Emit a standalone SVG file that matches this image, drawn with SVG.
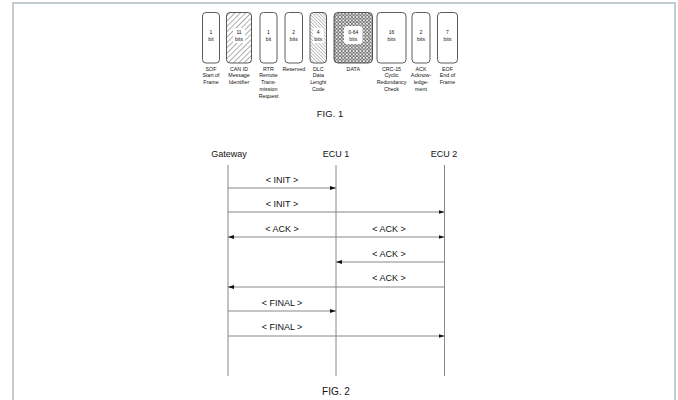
<svg xmlns="http://www.w3.org/2000/svg" width="678" height="400" viewBox="0 0 678 400">
<style>
.frame{fill:#fff;stroke:#c3cdd1;stroke-width:2}
.box{fill:#fff;stroke:#333;stroke-width:0.8}
.bt{font-family:"Liberation Sans",Arial,sans-serif;font-size:5px;fill:#111;text-anchor:middle}
.lb{font-family:"Liberation Sans",Arial,sans-serif;font-size:5.3px;fill:#111;text-anchor:middle}
.t{font-family:"Liberation Sans",Arial,sans-serif;font-size:9px;fill:#111;text-anchor:middle}
.fig{font-family:"Liberation Sans",Arial,sans-serif;font-size:10px;fill:#111;text-anchor:middle}
.life{stroke:#888;stroke-width:1;fill:none}
.msg{stroke:#888;stroke-width:1;fill:none;marker-end:url(#ah)}
</style>
<defs>
<marker id="ah" markerUnits="userSpaceOnUse" markerWidth="7" markerHeight="4" refX="6" refY="2" orient="auto">
<path d="M0,0 L6,2 L0,4 z" fill="#111"/>
</marker>
<pattern id="hf" patternUnits="userSpaceOnUse" width="3.8" height="3.8" patternTransform="rotate(45)">
<rect width="3.8" height="3.8" fill="#fff"/>
<line x1="0" y1="0" x2="0" y2="3.8" stroke="#333" stroke-width="0.8"/>
</pattern>
<pattern id="hb" patternUnits="userSpaceOnUse" width="2.4" height="2.4" patternTransform="rotate(-45)">
<rect width="2.4" height="2.4" fill="#fff"/>
<line x1="0" y1="0" x2="0" y2="2.4" stroke="#444" stroke-width="0.65"/>
</pattern>
<pattern id="dots" patternUnits="userSpaceOnUse" width="3.4" height="3.4">
<rect width="3.4" height="3.4" fill="#fff"/>
<circle cx="1.7" cy="1.7" r="1.25" fill="none" stroke="#333" stroke-width="0.7"/>
</pattern>
</defs>
<rect class="frame" x="13" y="3" width="662" height="420"/>

<g id="fig1">
<g id="sof"><rect class="box" x="202.5" y="12.5" width="17" height="50.5" rx="3.5"/><text class="bt" x="211" y="34">1</text><text class="bt" x="211" y="41">bit</text>
<text class="lb" x="211" y="70.5">SOF</text><text class="lb" x="211" y="77.3">Start of</text><text class="lb" x="211" y="84.1">Frame</text></g>
<g id="canid"><rect class="box" x="226.5" y="12.5" width="25" height="50.5" rx="3.5" style="fill:url(#hf)"/><rect x="233" y="28" width="12" height="15" fill="#fff"/><text class="bt" x="239" y="34">11</text><text class="bt" x="239" y="41">bits</text>
<text class="lb" x="239" y="70.5">CAN ID</text><text class="lb" x="239" y="77.3">Message</text><text class="lb" x="239" y="84.1">Identifier</text></g>
<g id="rtr"><rect class="box" x="260" y="12.5" width="17" height="50.5" rx="3.5"/><text class="bt" x="268.5" y="34">1</text><text class="bt" x="268.5" y="41">bit</text>
<text class="lb" x="268.5" y="70.5">RTR</text><text class="lb" x="268.5" y="77.3">Remote</text><text class="lb" x="268.5" y="84.1">Trans-</text><text class="lb" x="268.5" y="90.9">mission</text><text class="lb" x="268.5" y="97.7">Request</text></g>
<g id="reserved"><rect class="box" x="285" y="12.5" width="17.5" height="50.5" rx="3.5"/><text class="bt" x="293.75" y="34">2</text><text class="bt" x="293.75" y="41">bits</text>
<text class="lb" x="293.75" y="70.5">Reserved</text></g>
<g id="dlc"><rect class="box" x="310" y="12.5" width="16.5" height="50.5" rx="3.5" style="fill:url(#hb)"/><rect x="313" y="28" width="10.5" height="15" fill="#fff"/><text class="bt" x="318.25" y="34">4</text><text class="bt" x="318.25" y="41">bits</text>
<text class="lb" x="318.25" y="70.5">DLC</text><text class="lb" x="318.25" y="77.3">Data</text><text class="lb" x="318.25" y="84.1">Lenght</text><text class="lb" x="318.25" y="90.9">Code</text></g>
<g id="data"><rect class="box" x="334" y="12.5" width="38.5" height="50.5" rx="4" style="fill:url(#dots)"/><rect x="344" y="26" width="18.5" height="18" rx="3" fill="#fff"/><text class="bt" x="353.25" y="34">0-64</text><text class="bt" x="353.25" y="41">bits</text>
<text class="lb" x="353.25" y="70.5">DATA</text></g>
<g id="crc"><rect class="box" x="377" y="12.5" width="29" height="50.5" rx="3.5"/><text class="bt" x="391.5" y="34">16</text><text class="bt" x="391.5" y="41">bits</text>
<text class="lb" x="391.5" y="70.5">CRC-15</text><text class="lb" x="391.5" y="77.3">Cyclic</text><text class="lb" x="391.5" y="84.1">Redundancy</text><text class="lb" x="391.5" y="90.9">Check</text></g>
<g id="ack"><rect class="box" x="412" y="12.5" width="18" height="50.5" rx="3.5"/><text class="bt" x="421" y="34">2</text><text class="bt" x="421" y="41">bits</text>
<text class="lb" x="421" y="70.5">ACK</text><text class="lb" x="421" y="77.3">Acknow-</text><text class="lb" x="421" y="84.1">ledge-</text><text class="lb" x="421" y="90.9">ment</text></g>
<g id="eof"><rect class="box" x="437.5" y="12.5" width="20" height="50.5" rx="3.5"/><text class="bt" x="447.5" y="34">7</text><text class="bt" x="447.5" y="41">bits</text>
<text class="lb" x="447.5" y="70.5">EOF</text><text class="lb" x="447.5" y="77.3">End of</text><text class="lb" x="447.5" y="84.1">Frame</text></g>
<text class="fig" x="330" y="117" style="font-size:9.5px">FIG. 1</text>
</g>

<g id="gateway"><text class="t" x="229" y="157">Gateway</text><line class="life" x1="228" y1="165" x2="228" y2="376"/></g>
<g id="ecu1"><text class="t" x="336" y="157">ECU 1</text><line class="life" x1="336" y1="165" x2="336" y2="376"/></g>
<g id="ecu2"><text class="t" x="444" y="157">ECU 2</text><line class="life" x1="444.5" y1="165" x2="444.5" y2="376"/></g>

<g id="connectors">
<line class="msg" x1="228" y1="188" x2="336" y2="188"/>
<text class="t" x="282" y="183">&lt; INIT &gt;</text>
<line class="msg" x1="228" y1="212" x2="444.5" y2="212"/>
<text class="t" x="282" y="207">&lt; INIT &gt;</text>
<line class="msg" x1="336" y1="237" x2="228" y2="237"/>
<line class="msg" x1="336" y1="237" x2="444.5" y2="237"/>
<text class="t" x="282" y="232">&lt; ACK &gt;</text>
<text class="t" x="389" y="232">&lt; ACK &gt;</text>
<line class="msg" x1="444.5" y1="262" x2="336" y2="262"/>
<text class="t" x="389" y="257">&lt; ACK &gt;</text>
<line class="msg" x1="444.5" y1="287" x2="228" y2="287"/>
<text class="t" x="389" y="281">&lt; ACK &gt;</text>
<line class="msg" x1="228" y1="311" x2="336" y2="311"/>
<text class="t" x="282" y="306">&lt; FINAL &gt;</text>
<line class="msg" x1="228" y1="336" x2="444.5" y2="336"/>
<text class="t" x="282" y="330">&lt; FINAL &gt;</text>
</g>
<text class="fig" x="336" y="395">FIG. 2</text>
</svg>
